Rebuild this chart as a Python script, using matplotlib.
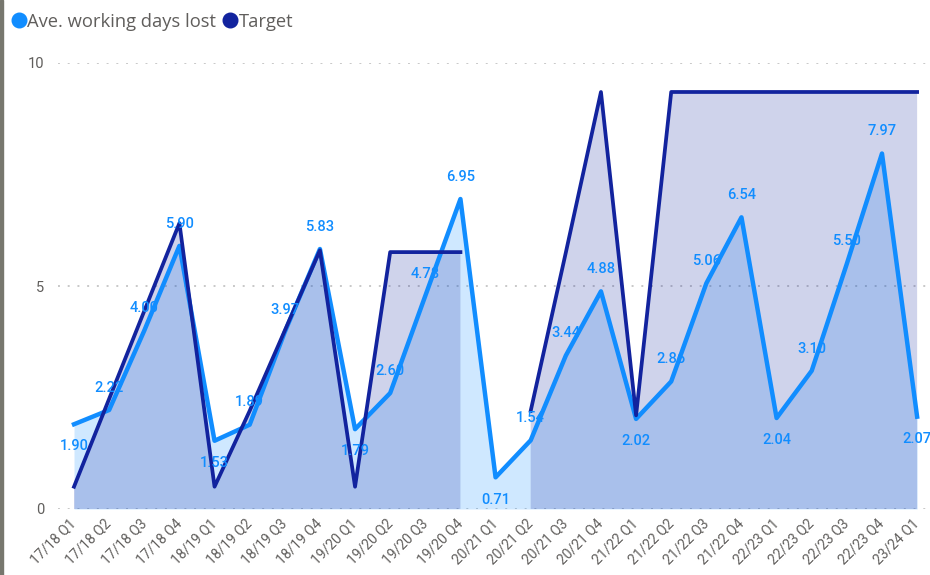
import numpy as np
import matplotlib.pyplot as plt
from matplotlib.lines import Line2D
from matplotlib.patches import Rectangle

# quarters
quarters = ['17/18 Q1', '17/18 Q2', '17/18 Q3', '17/18 Q4',
            '18/19 Q1', '18/19 Q2', '18/19 Q3', '18/19 Q4',
            '19/20 Q1', '19/20 Q2', '19/20 Q3', '19/20 Q4',
            '20/21 Q1', '20/21 Q2', '20/21 Q3', '20/21 Q4',
            '21/22 Q1', '21/22 Q2', '21/22 Q3', '21/22 Q4',
            '22/23 Q1', '22/23 Q2', '22/23 Q3', '22/23 Q4',
            '23/24 Q1']

ave_days = [1.90, 2.22, 4.00, 5.90, 1.53, 1.89, 3.97, 5.83,
            1.79, 2.60, 4.78, 6.95, 0.71, 1.54, 3.44, 4.88,
            2.02, 2.86, 5.06, 6.54, 2.04, 3.10, 5.50, 7.97, 2.07]

target = [0.5, 2.47, 4.44, 6.41, 0.5, 2.2, 4.0, 5.8,
          0.5, 5.76, 5.76, 5.76, np.nan, 2.2, 5.75, 9.35,
          2.1, 9.35, 9.35, 9.35, 9.35, 9.35, 9.35, 9.35, 9.35]

ave_col = '#118DFF'
tgt_col = '#12239E'
grey = '#605E5C'

x = np.arange(len(quarters))
ave = np.array(ave_days)
tgt = np.array(target)

fig = plt.figure(figsize=(9.3, 5.75), dpi=100)
ax = fig.add_axes([58/930, 1 - 509/575, (928 - 58)/930, (509 - 63)/575])

# areas
ax.fill_between(x, ave, 0, color=ave_col, alpha=0.2, lw=0)
ax.fill_between(x, tgt, 0, where=~np.isnan(tgt), color=tgt_col, alpha=0.2, lw=0)

# lines
ax.plot(x, ave, color=ave_col, lw=3.2, zorder=3)
ax.plot(x, tgt, color=tgt_col, lw=2.7, zorder=4)

# data labels, Q1 below the point, others above
for i, v in enumerate(ave_days):
    below = quarters[i].endswith('Q1')
    ax.annotate(f'{v:.2f}', (x[i], v), xytext=(0, -16 if below else 16),
                textcoords='offset points', ha='center', va='center',
                fontsize=10.5, color=ave_col, family='Roboto', weight='medium',
                zorder=5)

ax.set_xlim(-0.456, 24.31)
ax.set_ylim(0, 10)
ax.set_yticks([0, 5, 10])
ax.set_yticklabels(['0', '5', '10'], fontsize=10.5, color=grey, family='Roboto')
ax.set_xticks(x)
ax.set_xticklabels(quarters, rotation=45, ha='right', va='center',
                   rotation_mode='anchor', fontsize=10, color=grey, family='Roboto')
ax.tick_params(axis='both', length=0)
ax.tick_params(axis='x', pad=9)
ax.tick_params(axis='y', pad=10)
for s in ax.spines.values():
    s.set_visible(False)
ax.grid(axis='y', color='#C8C8C8', linestyle=(0, (1, 4)), lw=1.4)
ax.set_axisbelow(True)

# legend
handles = [Line2D([], [], ls='none', marker='o', ms=10.5, color=ave_col),
           Line2D([], [], ls='none', marker='o', ms=10.5, color=tgt_col)]
leg = fig.legend(handles, ['Ave. working days lost', 'Target'], ncol=2,
                 loc='upper left', bbox_to_anchor=(0.0, 1.0), frameon=False,
                 handlelength=0.7, handletextpad=0.1, columnspacing=0.4,
                 borderaxespad=0.3, prop={'family': 'Open Sans', 'size': 13.2})
for t in leg.get_texts():
    t.set_color(grey)

# grey strip down the left edge
fig.patches.append(Rectangle((0, 0), 3/930, 1, transform=fig.transFigure,
                             color='#77776E', zorder=10))

plt.savefig('out.png', dpi=100)
